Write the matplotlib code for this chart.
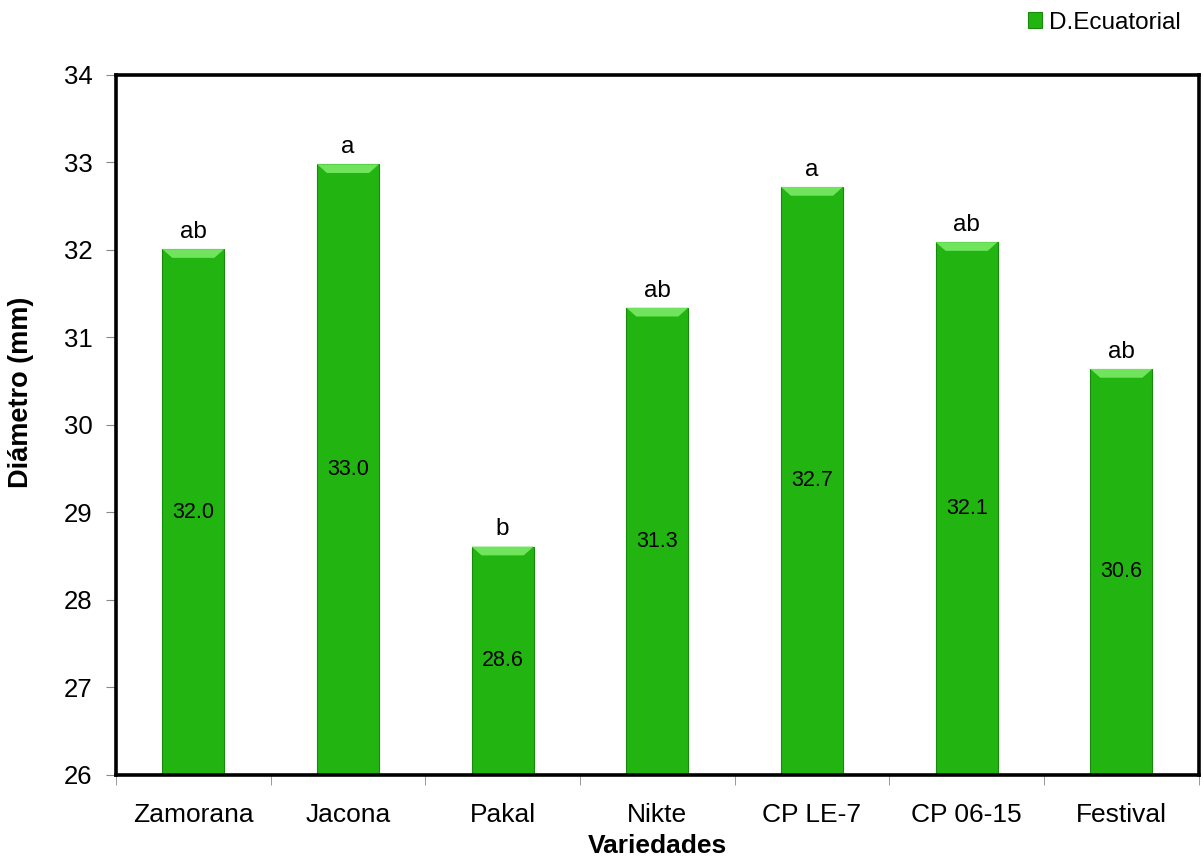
import numpy as np
import matplotlib
matplotlib.use('Agg')
from matplotlib import pyplot as plt
from matplotlib.patches import Polygon
from matplotlib.ticker import FixedLocator, NullFormatter

plt.rcParams['font.family'] = ['Liberation Sans', 'DejaVu Sans']

variedades = ['Zamorana', 'Jacona', 'Pakal', 'Nikte', 'CP LE-7', 'CP 06-15', 'Festival']
diametro = [32.01, 32.98, 28.61, 31.34, 32.72, 32.09, 30.64]
letras = ['ab', 'a', 'b', 'ab', 'a', 'ab', 'ab']
y_ticks = [26, 27, 28, 29, 30, 31, 32, 33, 34]

verde = '#22b512'
verde_claro = '#6fe45c'
verde_oscuro = '#178a0b'

fig = plt.figure(figsize=(12.03, 8.61), dpi=100)
ax = fig.add_axes([0.0964, 0.0999, 0.9, 0.813])

x = np.arange(len(variedades))
ancho = 0.40
bars = ax.bar(x, np.array(diametro) - 26, bottom=26, width=ancho, color=verde,
              edgecolor=verde_oscuro, linewidth=0.8, zorder=2, label='D.Ecuatorial')

# bisel claro en la parte superior de cada barra
for b in bars:
    x0, x1 = b.get_x(), b.get_x() + b.get_width()
    top = b.get_y() + b.get_height()
    dx = b.get_width() * 0.16
    dy = 0.10
    ax.add_patch(Polygon([[x0, top], [x1, top], [x1 - dx, top - dy], [x0 + dx, top - dy]],
                         closed=True, facecolor=verde_claro, edgecolor='none', zorder=3))

for xi, v, l in zip(x, diametro, letras):
    ax.text(xi, (26 + v) / 2, '{:.1f}'.format(v), ha='center', va='center',
            fontsize=15.5, zorder=4)
    ax.text(xi, v + 0.07, l, ha='center', va='bottom', fontsize=17.5, zorder=4)

ax.set_xlim(-0.5, len(variedades) - 0.5)
ax.set_ylim(26, 34)
ax.yaxis.set_major_locator(FixedLocator(y_ticks))
ax.set_xticks(x)
ax.set_xticklabels(variedades, fontsize=19)
ax.xaxis.set_minor_locator(FixedLocator(np.arange(-0.5, len(variedades), 1.0)))
ax.xaxis.set_minor_formatter(NullFormatter())
ax.tick_params(axis='x', which='major', length=0, pad=20)
ax.tick_params(axis='x', which='minor', length=7, color='#888888', direction='out')
ax.tick_params(axis='y', which='major', length=7, color='#888888', labelsize=18.5, pad=10)

for s in ax.spines.values():
    s.set_linewidth(2.6)
    s.set_color('black')

ax.set_xlabel('Variedades', fontsize=19, fontweight='bold')
ax.xaxis.set_label_coords(0.5, -0.085)
ax.set_ylabel('Diámetro (mm)', fontsize=19.5, fontweight='bold')
ax.yaxis.set_label_coords(-0.076, 0.546)

fig.legend(handles=[bars], labels=['D.Ecuatorial'], loc='upper right',
           bbox_to_anchor=(1.0, 1.012), frameon=False, fontsize=17.5,
           handlelength=0.6, handleheight=0.6, handletextpad=0.3)

fig.savefig('out.png', dpi=100)
